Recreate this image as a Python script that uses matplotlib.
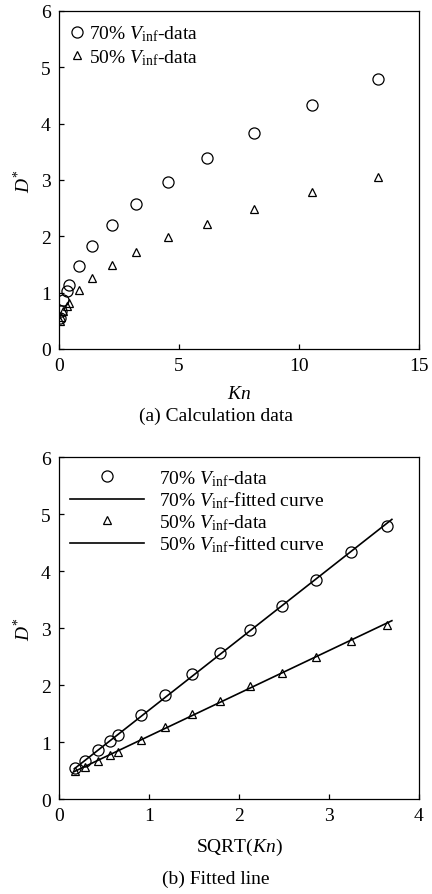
import numpy as np
import matplotlib
matplotlib.use("Agg")
import matplotlib.pyplot as plt

plt.rcParams["font.family"] = ["Liberation Serif", "DejaVu Serif"]
plt.rcParams["mathtext.fontset"] = "custom"
plt.rcParams["mathtext.rm"] = "Liberation Serif"
plt.rcParams["mathtext.it"] = "Liberation Serif:italic"
plt.rcParams["font.size"] = 14

# Kn values and D* for the two inflow velocities
kn = [0.03, 0.083, 0.185, 0.32, 0.435, 0.83, 1.38, 2.19, 3.21, 4.53, 6.15, 8.14, 10.53, 13.3]
d70 = [0.55, 0.67, 0.86, 1.02, 1.13, 1.47, 1.82, 2.20, 2.57, 2.97, 3.39, 3.84, 4.33, 4.79]
d50 = [0.50, 0.56, 0.67, 0.77, 0.82, 1.04, 1.26, 1.49, 1.72, 1.99, 2.22, 2.49, 2.78, 3.06]

# fitted straight lines D* = k * sqrt(Kn) + b
fit_x = [0.17, 3.7]
k70, b70 = 1.24, 0.32
k50, b50 = 0.75, 0.355

lab70 = r"70% $V_{\mathrm{inf}}$-data"
lab50 = r"50% $V_{\mathrm{inf}}$-data"
fit70 = r"70% $V_{\mathrm{inf}}$-fitted curve"
fit50 = r"50% $V_{\mathrm{inf}}$-fitted curve"

fig = plt.figure(figsize=(4.32, 8.95), dpi=100)
ax1 = fig.add_axes([0.1366, 0.609, 0.833, 0.3777])
ax2 = fig.add_axes([0.1366, 0.1061, 0.833, 0.382])

ax1.plot(kn, d70, "o", mfc="none", mec="k", ms=8, mew=0.9, label=lab70)
ax1.plot(kn, d50, "^", mfc="none", mec="k", ms=6, mew=0.9, label=lab50)
ax1.set_xlim(0, 15)
ax1.set_ylim(0, 6)
ax1.set_xticks([0, 5, 10, 15])
ax1.set_xlabel(r"$Kn$", labelpad=8)
ax1.set_ylabel(r"$D^{*}$", labelpad=5)
ax1.legend(loc="upper left", frameon=False, handlelength=0.6, handletextpad=0.3,
           borderaxespad=0.25, labelspacing=0.2)
fig.text(0.5, 0.535, "(a) Calculation data", ha="center", va="center")

sq = np.sqrt(kn)
fx = np.array(fit_x)
ax2.plot(sq, d70, "o", mfc="none", mec="k", ms=8, mew=0.9, label=lab70)
ax2.plot(fx, k70 * fx + b70, "k-", lw=1.2, label=fit70)
ax2.plot(sq, d50, "^", mfc="none", mec="k", ms=6, mew=0.9, label=lab50)
ax2.plot(fx, k50 * fx + b50, "k-", lw=1.2, label=fit50)
ax2.set_xlim(0, 4)
ax2.set_ylim(0, 6)
ax2.set_xticks([0, 1, 2, 3, 4])
ax2.set_xlabel(r"SQRT($Kn$)", labelpad=8)
ax2.set_ylabel(r"$D^{*}$", labelpad=5)
ax2.legend(loc="upper left", frameon=False, handlelength=3.8, handletextpad=0.8,
           borderaxespad=0.25, borderpad=0.3, labelspacing=0.1)
fig.text(0.5, 0.017, "(b) Fitted line", ha="center", va="center")

for ax in (ax1, ax2):
    ax.tick_params(direction="in", top=False, right=False, length=3.6, width=0.9, pad=6)
    for s in ax.spines.values():
        s.set_linewidth(0.9)

fig.savefig("out.png", dpi=100)
